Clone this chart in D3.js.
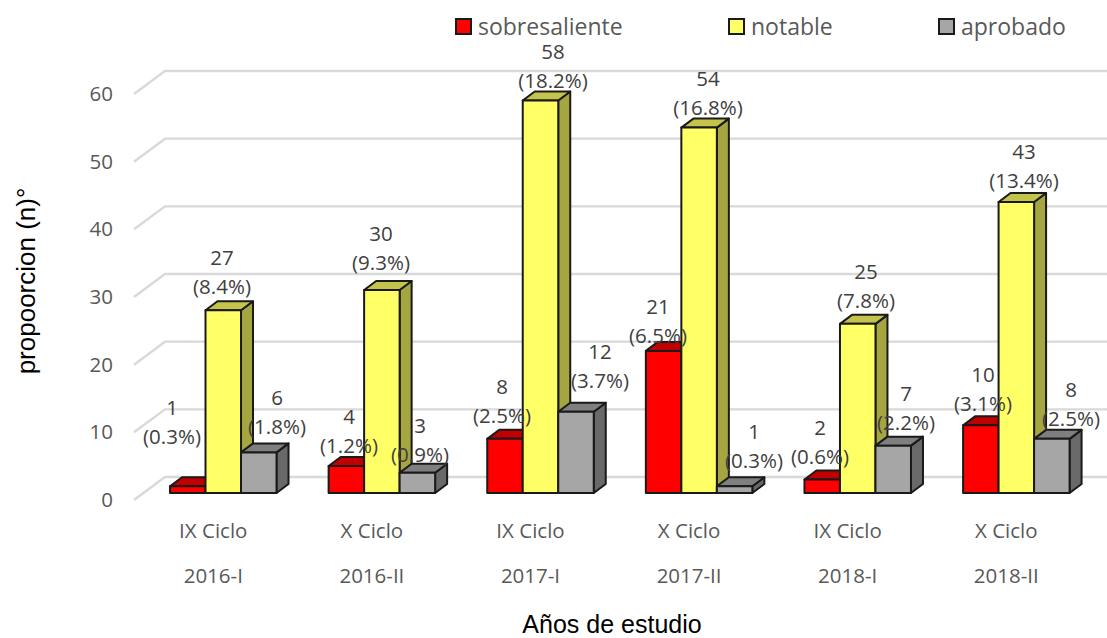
<!DOCTYPE html>
<html>
<head>
    <meta charset="utf-8" />
    <title>Años de estudio</title>
    <style>
        html, body { margin: 0; padding: 0; background: #fff; }
        svg { display: block; }
    </style>
</head>
<body>
<script src="https://d3js.org/d3.v7.min.js"></script>
<script>

    // data
    var ciclos = ["IX Ciclo", "X Ciclo", "IX Ciclo", "X Ciclo", "IX Ciclo", "X Ciclo"];
    var periodos = ["2016-I", "2016-II", "2017-I", "2017-II", "2018-I", "2018-II"];
    var seriesNames = ["sobresaliente", "notable", "aprobado"];
    var sobresaliente = [1, 4, 8, 21, 2, 10];
    var notable = [27, 30, 58, 54, 25, 43];
    var aprobado = [6, 3, 12, 1, 7, 8];
    var sobresalientePct = ["0.3", "1.2", "2.5", "6.5", "0.6", "3.1"];
    var notablePct = ["8.4", "9.3", "18.2", "16.8", "7.8", "13.4"];
    var aprobadoPct = ["1.8", "0.9", "3.7", "0.3", "2.2", "2.5"];
    var yTicks = [0, 10, 20, 30, 40, 50, 60];

    var seriesValues = [sobresaliente, notable, aprobado];
    var seriesPct = [sobresalientePct, notablePct, aprobadoPct];

    // label centre (x, y of the count line) as placed in the picture, per series
    var labelX = [
        [172, 349, 502, 658, 820, 983],
        [222, 381, 553, 708, 866, 1024],
        [277, 420, 600, 754, 906, 1071]
    ];
    var labelY = [
        [408, 417, 387, 307, 428, 375],
        [258, 234, 52, 79, 272, 152],
        [398, 426, 352, 432, 394, 390]
    ];

    var width = 1107;
    var height = 638;
    var sansFont = "'Open Sans', sans-serif";
    var titleFont = "'Liberation Sans', Arial, sans-serif";
    var textColor = "#595959";
    var labelColor = "#404040";

    // 3d offsets, from the bar front plane
    var depth = {"dx": 12, "dy": -9};
    var back = {"dx": 21, "dy": -16};
    var front = {"dx": -10, "dy": 7};

    var colors = [
        {"face": "#ff0000", "top": "#c00000", "side": "#a00000"},
        {"face": "#ffff66", "top": "#c4c44c", "side": "#a6a640"},
        {"face": "#a6a6a6", "top": "#7f7f7f", "side": "#696969"}
    ];

    var svg = d3.select("body").append("svg")
                .attr("width", width)
                .attr("height", height);

    var xGroup = d3.scaleBand()
                   .domain(d3.range(periodos.length))
                   .range([144, 1095.6])
                   .paddingInner(0.3285)
                   .paddingOuter(0.164);

    var xBar = d3.scaleBand()
                 .domain(d3.range(seriesNames.length))
                 .range([0, xGroup.bandwidth()]);

    var yScale = d3.scaleLinear()
                   .domain([0, 60])
                   .range([493, 87]);

    // gridlines on the floor/back wall
    svg.append("g")
       .selectAll("path")
       .data(yTicks)
       .enter()
       .append("path")
       .attr("fill", "none")
       .style("stroke", "#d9d9d9")
       .style("stroke-width", 2.4)
       .attr("d", d => "M" + (xGroup.range()[0] + front.dx) + "," + (yScale(d) + front.dy)
                     + "L" + (xGroup.range()[0] + back.dx) + "," + (yScale(d) + back.dy)
                     + "L" + width + "," + (yScale(d) + back.dy));

    var yAxis = d3.axisLeft(yScale)
                  .tickValues(yTicks)
                  .tickSize(0)
                  .tickPadding(21);

    var yAxisView = svg.append("g")
                       .attr("transform", "translate(" + (xGroup.range()[0] + front.dx) + "," + front.dy + ")")
                       .call(yAxis);

    yAxisView.select(".domain").remove();
    yAxisView.selectAll("text")
             .style("font-family", sansFont)
             .style("font-size", "20.5px")
             .attr("fill", textColor);

    function poly(points){
        return "M" + points.map(p => p.join(",")).join("L") + "Z";
    }

    // left to right, each series over the previous one
    seriesValues.forEach(function(values, s){
        var bars = svg.append("g")
                      .selectAll("g")
                      .data(values)
                      .enter()
                      .append("g")
                      .style("stroke", "#1a1a1a")
                      .style("stroke-width", 2)
                      .style("stroke-linejoin", "round");

        var x0 = (d, i) => xGroup(i) + xBar(s);
        var x1 = (d, i) => x0(d, i) + xBar.bandwidth();
        var base = yScale(0);

        bars.append("path")
            .attr("fill", colors[s].side)
            .attr("d", (d, i) => poly([
                [x1(d, i), yScale(d)],
                [x1(d, i) + depth.dx, yScale(d) + depth.dy],
                [x1(d, i) + depth.dx, base + depth.dy],
                [x1(d, i), base]
            ]));

        bars.append("path")
            .attr("fill", colors[s].top)
            .attr("d", (d, i) => poly([
                [x0(d, i), yScale(d)],
                [x0(d, i) + depth.dx, yScale(d) + depth.dy],
                [x1(d, i) + depth.dx, yScale(d) + depth.dy],
                [x1(d, i), yScale(d)]
            ]));

        bars.append("rect")
            .attr("fill", colors[s].face)
            .attr("x", (d, i) => x0(d, i))
            .attr("y", d => yScale(d))
            .attr("width", xBar.bandwidth())
            .attr("height", d => base - yScale(d));
    });

    // data labels, two lines each
    seriesValues.forEach(function(values, s){
        var labels = svg.append("g")
                        .attr("text-anchor", "middle")
                        .attr("fill", labelColor)
                        .style("font-family", sansFont)
                        .style("font-size", "20.5px")
                        .selectAll("g")
                        .data(values)
                        .enter()
                        .append("g");

        labels.append("text")
              .attr("x", (d, i) => labelX[s][i])
              .attr("y", (d, i) => labelY[s][i])
              .attr("dy", ".36em")
              .text(d => d);

        labels.append("text")
              .attr("x", (d, i) => labelX[s][i])
              .attr("y", (d, i) => labelY[s][i] + 29)
              .attr("dy", ".36em")
              .text((d, i) => "(" + seriesPct[s][i] + "%)");
    });

    // category labels, two rows
    var catGroup = svg.append("g")
                      .attr("text-anchor", "middle")
                      .attr("fill", textColor)
                      .style("font-family", sansFont)
                      .style("font-size", "20.5px");

    catGroup.selectAll("text.ciclo")
            .data(ciclos)
            .enter()
            .append("text")
            .attr("class", "ciclo")
            .attr("x", (d, i) => xGroup(i) + xGroup.bandwidth()/2 + front.dx)
            .attr("y", 531)
            .attr("dy", ".36em")
            .text(d => d);

    catGroup.selectAll("text.periodo")
            .data(periodos)
            .enter()
            .append("text")
            .attr("class", "periodo")
            .attr("x", (d, i) => xGroup(i) + xGroup.bandwidth()/2 + front.dx)
            .attr("y", 576)
            .attr("dy", ".36em")
            .text(d => d);

    // legend
    var legendX = [456, 729, 939];
    var legend = svg.append("g")
                    .selectAll("g")
                    .data(seriesNames)
                    .enter()
                    .append("g")
                    .attr("transform", (d, i) => "translate(" + legendX[i] + ",19)");

    legend.append("rect")
          .attr("width", 15)
          .attr("height", 15)
          .attr("fill", (d, i) => colors[i].face)
          .style("stroke", "#1a1a1a")
          .style("stroke-width", 2);

    legend.append("text")
          .attr("x", 22)
          .attr("y", 7.5)
          .attr("dy", ".36em")
          .attr("fill", textColor)
          .style("font-family", sansFont)
          .style("font-size", "23px")
          .text(d => d);

    // axis titles
    svg.append("text")
       .attr("x", 612)
       .attr("y", 624)
       .attr("dy", ".36em")
       .attr("text-anchor", "middle")
       .attr("fill", "#000")
       .style("font-family", titleFont)
       .style("font-size", "25px")
       .text("Años de estudio");

    svg.append("text")
       .attr("transform", "translate(26,281) rotate(-90)")
       .attr("dy", ".36em")
       .attr("text-anchor", "middle")
       .attr("fill", "#000")
       .style("font-family", titleFont)
       .style("font-size", "26px")
       .text("propoorcion (n)°");

</script>
</body>
</html>
